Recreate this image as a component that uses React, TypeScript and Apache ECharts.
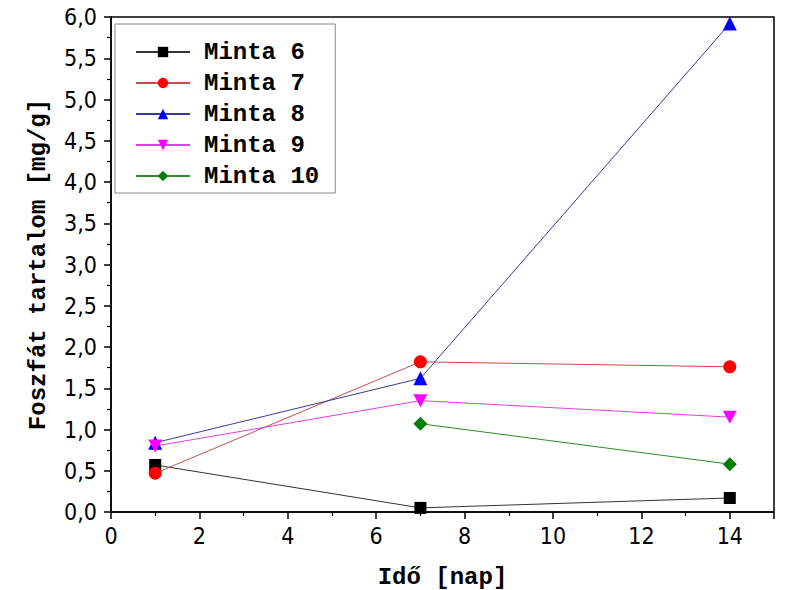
import React, { useEffect, useRef } from "react";
import * as echarts from "echarts";

const days = [1, 7, 14];
const seriesNames = ["Minta 6", "Minta 7", "Minta 8", "Minta 9", "Minta 10"];
const minta6 = [0.57, 0.05, 0.17];
const minta7 = [0.47, 1.82, 1.76];
const minta8 = [0.84, 1.62, 5.92];
const minta9 = [0.8, 1.35, 1.15];
const minta10 = [null, 1.07, 0.58];
const values = [minta6, minta7, minta8, minta9, minta10];
const markerColors = ["#000000", "#ff0000", "#0000ff", "#ff00ff", "#008000"];
const lineColors = ["#333333", "#c0504d", "#3a3a9a", "#e040e0", "#2e8b2e"];
const symbols = ["rect", "circle", "triangle", "path://M0,0 L10,0 L5,9 Z", "diamond"];
const symbolSizes: (number | number[])[] = [12, 13, 14, [14, 13], 14];

export default function App() {
  const ref = useRef<HTMLDivElement>(null);
  useEffect(() => {
    if (!ref.current) return;
    const chart = echarts.init(ref.current, null, { renderer: "svg" });
    const tickFont = "'Liberation Sans Narrow', 'DejaVu Sans Condensed', 'Liberation Sans', Arial, sans-serif";
    const monoFont = "'Liberation Mono', 'Courier New', monospace";
    chart.setOption({
      animation: false,
      backgroundColor: "#ffffff",
      grid: {
        left: 111,
        right: 13,
        top: 17,
        bottom: 78,
        containLabel: false,
        outerBoundsMode: "none",
        show: true,
        borderColor: "#000",
        borderWidth: 1.5,
        backgroundColor: "transparent",
      },
      legend: {
        orient: "vertical",
        left: 115,
        top: 24,
        itemWidth: 54,
        itemHeight: 13,
        itemGap: 7,
        padding: [16, 16, 5, 20],
        borderColor: "#888",
        borderWidth: 1,
        backgroundColor: "#fff",
        textStyle: {
          fontFamily: monoFont,
          fontWeight: "bold",
          fontSize: 24,
          color: "#000",
          padding: [0, 0, 0, 9],
        },
        data: seriesNames,
      },
      xAxis: {
        type: "value",
        min: 0,
        max: 15,
        interval: 2,
        name: "Idő [nap]",
        nameLocation: "middle",
        nameGap: 53,
        nameTextStyle: { fontFamily: monoFont, fontWeight: "bold", fontSize: 24, lineHeight: 24, color: "#000" },
        axisLine: { show: true, lineStyle: { color: "#000", width: 1.5 } },
        axisTick: { show: true, inside: false, length: 7, lineStyle: { color: "#000", width: 1.5 } },
        minorTick: { show: true, splitNumber: 2, length: 4, lineStyle: { color: "#000", width: 1.2 } },
        axisLabel: {
          fontFamily: tickFont,
          fontSize: 23,
          color: "#000",
          margin: 12,
          showMaxLabel: false,
        },
        splitLine: { show: false },
      },
      yAxis: {
        type: "value",
        min: 0,
        max: 6,
        interval: 0.5,
        name: "Foszfát tartalom [mg/g]",
        nameLocation: "middle",
        nameGap: 61,
        nameTextStyle: { fontFamily: monoFont, fontWeight: "bold", fontSize: 24, color: "#000" },
        axisLine: { show: true, lineStyle: { color: "#000", width: 1.5 } },
        axisTick: { show: true, inside: false, length: 7, lineStyle: { color: "#000", width: 1.5 } },
        minorTick: { show: true, splitNumber: 2, length: 4, lineStyle: { color: "#000", width: 1.2 } },
        axisLabel: {
          fontFamily: tickFont,
          fontSize: 23,
          color: "#000",
          margin: 14,
          formatter: (v: number) => v.toFixed(1).replace(".", ","),
        },
        splitLine: { show: false },
      },
      series: seriesNames.map((name, i) => ({
        name,
        type: "line",
        data: days.map((d, j) => [d, values[i][j]]),
        symbol: symbols[i],
        symbolSize: symbolSizes[i],
        showAllSymbol: true,
        connectNulls: false,
        itemStyle: { color: markerColors[i] },
        lineStyle: { color: lineColors[i], width: 1 },
        z: 2 + i,
      })),
    });
    return () => chart.dispose();
  }, []);
  return <div ref={ref} style={{ width: 787, height: 590, position: "absolute", left: 0, top: 0 }} />;
}
